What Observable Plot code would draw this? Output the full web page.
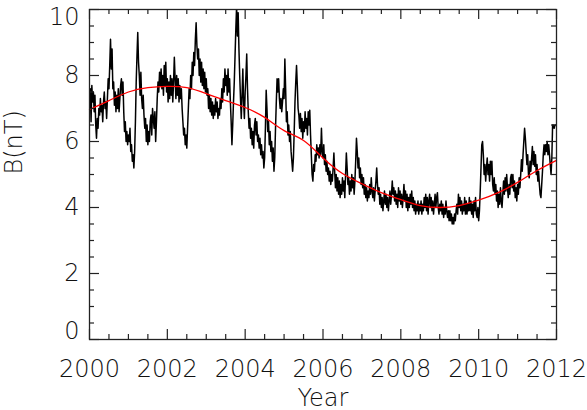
<!DOCTYPE html>
<html><head><meta charset="utf-8">
<script src="https://cdn.jsdelivr.net/npm/d3@7"></script>
<script src="https://cdn.jsdelivr.net/npm/@observablehq/plot@0.6"></script>
<style>body{margin:0;background:#fff;}</style>
</head><body><div id="chart"></div>
<script>
// Black series: B (nT), one value every 0.02 year starting at 2000.00
const startYear = 2000;
const stepYear = 0.02;
const bValues = [
7.0,7.6,6.6,7.7,7.2,7.5,6.9,7.4,6.5,6.1,
6.7,6.4,7.0,6.8,7.3,6.9,7.1,6.6,7.2,7.5,
7.0,7.2,6.7,7.3,7.9,7.6,8.3,9.1,8.2,8.8,
7.6,7.8,7.1,7.5,6.9,7.4,7.0,7.6,6.9,7.3,
7.7,7.9,7.4,7.8,6.9,6.3,6.6,6.0,6.3,5.9,
6.2,6.0,6.4,5.7,5.9,5.4,5.6,5.2,5.7,6.6,
7.8,8.6,9.3,8.4,8.0,7.4,8.1,7.3,7.0,7.4,
6.8,6.4,6.7,6.0,6.5,5.9,6.3,6.0,6.6,6.8,
6.2,7.0,6.7,6.4,6.9,6.0,6.6,7.3,7.8,7.5,
8.1,7.7,8.2,7.6,8.0,7.4,8.3,7.7,8.4,7.5,
7.9,7.2,7.8,7.3,8.0,7.4,7.9,7.2,7.8,8.55,
7.9,7.3,8.0,7.4,7.9,7.2,7.7,7.3,7.6,7.0,
6.6,6.2,6.4,5.9,6.2,5.8,6.4,7.0,7.6,7.3,
8.0,7.6,8.4,8.0,8.7,8.3,9.1,9.6,8.9,8.5,
8.8,8.0,8.5,7.8,8.4,7.7,8.2,7.6,8.1,7.5,
7.9,7.4,7.6,7.0,7.4,6.9,7.3,6.8,7.2,6.7,
7.1,6.8,7.3,6.9,7.2,6.7,7.0,6.8,7.3,7.0,
7.6,7.2,7.9,7.5,8.2,7.7,8.0,7.4,8.2,7.5,
7.9,7.2,6.6,5.9,6.5,7.2,7.8,8.6,9.4,10.1,
9.2,9.9,8.8,8.0,7.3,6.7,7.4,8.2,7.2,6.7,
7.5,8.0,8.65,7.6,6.9,6.4,6.7,6.1,6.4,5.9,
6.3,5.8,6.5,6.7,6.2,6.6,6.0,6.2,5.8,6.1,
5.6,5.9,5.5,5.7,5.2,5.5,6.4,7.55,7.0,6.3,
6.6,5.9,6.3,5.7,6.0,5.4,5.8,5.1,5.5,6.4,
7.2,7.9,7.5,7.9,7.3,7.0,7.3,6.9,7.2,7.6,
7.3,8.5,7.6,6.6,6.9,6.2,6.5,6.0,6.3,5.7,
5.4,5.1,5.5,6.3,7.2,7.8,8.3,7.7,7.0,6.8,
6.4,6.85,6.3,6.7,6.1,6.6,6.3,6.9,6.4,6.7,
6.2,6.9,6.5,6.95,6.2,5.6,5.0,4.8,5.3,5.1,
5.6,5.4,5.9,5.6,5.8,5.5,5.9,5.6,6.4,5.7,
5.5,5.9,5.3,5.6,5.1,5.4,5.0,5.2,4.8,5.1,
4.7,5.0,4.8,5.2,5.65,5.1,4.6,5.0,4.5,4.9,
4.4,4.8,4.3,4.7,4.4,4.9,4.5,4.8,4.3,5.0,
5.65,5.2,4.7,4.9,4.4,4.8,4.5,5.0,4.6,4.9,
4.4,4.8,5.4,6.1,5.7,5.2,5.5,4.9,5.2,4.7,
5.0,4.6,4.9,4.4,4.7,4.3,4.6,4.2,4.5,4.3,
4.7,4.4,4.9,4.5,4.3,4.6,4.2,4.5,4.8,5.2,
4.7,4.4,4.6,4.1,4.4,4.0,4.3,3.9,4.2,4.5,
4.1,4.4,4.0,4.3,3.9,4.2,4.5,4.1,4.4,4.8,
4.4,4.6,4.2,4.5,4.1,4.4,4.0,4.6,4.2,4.5,
4.1,4.4,4.0,4.3,4.7,4.2,4.5,4.0,4.4,3.9,
4.3,4.0,4.4,4.1,4.5,4.0,4.3,3.9,4.2,3.8,
4.1,3.9,4.2,3.8,4.1,3.9,4.2,3.8,4.1,3.9,
4.3,4.0,4.4,3.9,4.3,3.8,4.2,4.4,4.0,4.3,
3.9,4.2,3.8,4.1,4.4,4.0,4.3,4.45,4.0,3.8,
4.1,3.9,4.2,3.8,4.1,3.7,4.0,3.8,4.2,3.9,
3.7,3.9,3.6,3.9,3.6,3.8,3.5,3.7,3.5,3.8,
3.6,3.9,4.1,3.8,4.4,4.0,4.3,3.9,4.2,3.8,
4.1,3.9,4.3,3.8,4.2,3.8,4.1,3.9,4.3,3.9,
4.2,3.8,4.1,3.7,4.2,3.9,4.3,3.8,3.7,4.0,
3.6,3.9,4.5,5.2,5.9,6.0,5.6,5.0,5.3,4.8,
5.2,5.5,5.0,5.3,4.8,5.4,5.0,5.4,4.7,4.5,
4.9,4.4,4.7,4.2,4.5,4.0,4.4,4.1,4.6,4.2,
4.0,4.4,4.8,4.4,4.9,4.5,5.0,4.6,4.3,4.7,
4.4,4.9,5.0,4.6,5.0,4.5,4.8,4.3,4.6,4.2,
4.7,4.4,4.9,4.6,5.0,5.45,5.1,5.6,6.0,6.4,
6.1,5.7,5.3,5.6,5.0,4.9,5.4,5.1,5.5,5.85,
5.3,5.7,5.25,5.6,5.0,5.3,4.8,5.1,4.7,4.4,
4.3,4.7,5.1,5.6,5.9,5.6,5.9,5.7,6.0,5.6,
5.9,5.6,5.3,5.0,5.5,6.5,6.5,6.4,6.5,6.5,
6.5
];

// Red fitted curve, read every half year
const fitYears = [2000,2000.5,2001,2001.5,2002,2002.5,2003,2003.5,2004,2004.5,2005,2005.5,2006,2006.5,2007,2007.5,2008,2008.5,2009,2009.5,2010,2010.5,2011,2011.5,2012];
const fitValues = [6.97,7.24,7.5,7.63,7.67,7.63,7.45,7.24,7.03,6.73,6.33,6.03,5.5,5.03,4.72,4.45,4.24,4.06,4.0,4.06,4.22,4.45,4.76,5.12,5.43];

// Axes ticks
const xMajor = [2000,2002,2004,2006,2008,2010,2012];
const xMinor = [2000.5,2001,2001.5,2002.5,2003,2003.5,2004.5,2005,2005.5,2006.5,2007,2007.5,2008.5,2009,2009.5,2010.5,2011,2011.5];
const yMajor = [0,2,4,6,8,10];
const yMid = [2,4,6,8];
const yMinor = [0.5,1,1.5,2.5,3,3.5,4.5,5,5.5,6.5,7,7.5,8.5,9,9.5];
const xTitle = "Year";
const yTitle = "B(nT)";

const series = bValues.map((v, i) => ({year: startYear + i * stepYear, b: v}));
const fit = fitYears.map((y, i) => ({year: y, b: fitValues[i]}));

const W = 587, H = 410, mL = 89, mR = 31, mT = 9, mB = 71;
const plotW = W - mL - mR, plotH = H - mT - mB;
const major = 10, minor = 5;

const font = {fontFamily: "DejaVu Sans", fontWeight: 200, fontSize: 24, fill: "#111"};
const tk = {stroke: "#222", strokeWidth: 1.2};

const chart = Plot.plot({
  width: W, height: H,
  marginLeft: mL, marginRight: mR, marginTop: mT, marginBottom: mB,
  x: {domain: [2000, 2012], axis: null},
  y: {domain: [0, 10], axis: null},
  style: {fontFamily: "DejaVu Sans", background: "#fff"},
  marks: [
    Plot.lineY(series, {x: "year", y: "b", stroke: "#000", strokeWidth: 1.5, clip: true}),
    Plot.line(fit, {x: "year", y: "b", stroke: "#ff0000", strokeWidth: 1.3, curve: "natural"}),
    Plot.frame({stroke: "#222", strokeWidth: 1.3}),
    // inward ticks: bottom, top, left, right
    Plot.tickX(xMajor, {x: d => d, insetTop: plotH - major, ...tk}),
    Plot.tickX(xMinor, {x: d => d, insetTop: plotH - minor, ...tk}),
    Plot.tickX(xMajor, {x: d => d, insetBottom: plotH - major, ...tk}),
    Plot.tickX(xMinor, {x: d => d, insetBottom: plotH - minor, ...tk}),
    Plot.tickY(yMajor, {y: d => d, insetRight: plotW - major, ...tk}),
    Plot.tickY(yMinor, {y: d => d, insetRight: plotW - minor, ...tk}),
    Plot.tickY(yMajor, {y: d => d, insetLeft: plotW - major, ...tk}),
    Plot.tickY(yMinor, {y: d => d, insetLeft: plotW - minor, ...tk}),
    // tick labels
    Plot.axisX({anchor: "bottom", ticks: xMajor, tickSize: 0, tickPadding: 20, tickFormat: d => String(d), label: null, ...font}),
    Plot.axisY({anchor: "left", ticks: yMid, tickSize: 0, tickPadding: 10, tickFormat: d => String(d), label: null, ...font}),
    Plot.axisY({anchor: "left", ticks: [10], tickSize: 0, tickPadding: 10, dy: 8, tickFormat: d => String(d), label: null, ...font}),
    Plot.axisY({anchor: "left", ticks: [0], tickSize: 0, tickPadding: 10, dy: -8, tickFormat: d => String(d), label: null, ...font}),
    // titles
    Plot.text([xTitle], {text: d => d, frameAnchor: "bottom", dy: 66, ...font}),
    Plot.text([yTitle], {text: d => d, frameAnchor: "left", dx: -75, rotate: -90, ...font})
  ]
});
document.getElementById("chart").appendChild(chart);
</script>
</body></html>
